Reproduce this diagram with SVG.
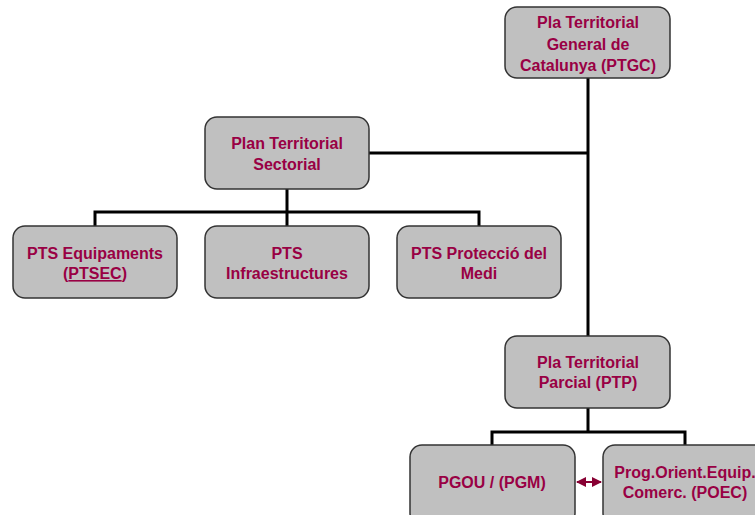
<svg xmlns="http://www.w3.org/2000/svg" width="755" height="515" viewBox="0 0 755 515">
<style>
.box{fill:#c0c0c0;stroke:#333;stroke-width:1.5}
.t{font-family:"Liberation Sans",Arial,sans-serif;font-weight:bold;font-size:16px;fill:#990044;text-anchor:middle}
.c{stroke:#000;stroke-width:3;fill:none}
</style>
<defs>
<marker id="ah" viewBox="0 0 10 10" refX="9" refY="5" markerWidth="5" markerHeight="5" orient="auto-start-reverse">
<path d="M0,0L10,5L0,10z" fill="#880033"/>
</marker>
</defs>
<rect width="755" height="515" fill="#fff"/>
<g id="connectors">
<path class="c" d="M588,78V336M369,153H588M287,189V226M95,226V212H479V226M588,408V432M492,445V432H685V445"/>
<line x1="577" y1="482" x2="601" y2="482" stroke="#880033" stroke-width="2" marker-start="url(#ah)" marker-end="url(#ah)"/>
</g>
<g id="ptgc"><rect class="box" x="505" y="7" width="165" height="71" rx="12"/>
<text class="t" x="588" y="28">Pla Territorial</text><text class="t" x="588" y="50">General de</text><text class="t" x="588" y="71">Catalunya (PTGC)</text></g>
<g id="pts"><rect class="box" x="205" y="117" width="164" height="72" rx="12"/>
<text class="t" x="287" y="149">Plan Territorial</text><text class="t" x="287" y="170">Sectorial</text></g>
<g id="ptsec"><rect class="box" x="13" y="226" width="164" height="72" rx="12"/>
<text class="t" x="95" y="259">PTS Equipaments</text><text class="t" x="95" y="279">(<tspan text-decoration="underline">PTSEC</tspan>)</text></g>
<g id="ptsinf"><rect class="box" x="205" y="226" width="164" height="72" rx="12"/>
<text class="t" x="287" y="259">PTS</text><text class="t" x="287" y="279">Infraestructures</text></g>
<g id="ptsmedi"><rect class="box" x="397" y="226" width="164" height="72" rx="12"/>
<text class="t" x="479" y="259">PTS Protecció del</text><text class="t" x="479" y="279">Medi</text></g>
<g id="ptp"><rect class="box" x="505" y="336" width="165" height="72" rx="12"/>
<text class="t" x="588" y="368">Pla Territorial</text><text class="t" x="588" y="388">Parcial (PTP)</text></g>
<g id="pgou"><rect class="box" x="410" y="445" width="165" height="80" rx="12"/>
<text class="t" x="492" y="488">PGOU / (PGM)</text></g>
<g id="poec"><rect class="box" x="603" y="445" width="165" height="80" rx="12"/>
<text class="t" x="685" y="478">Prog.Orient.Equip.</text><text class="t" x="685" y="498">Comerc. (POEC)</text></g>
</svg>
